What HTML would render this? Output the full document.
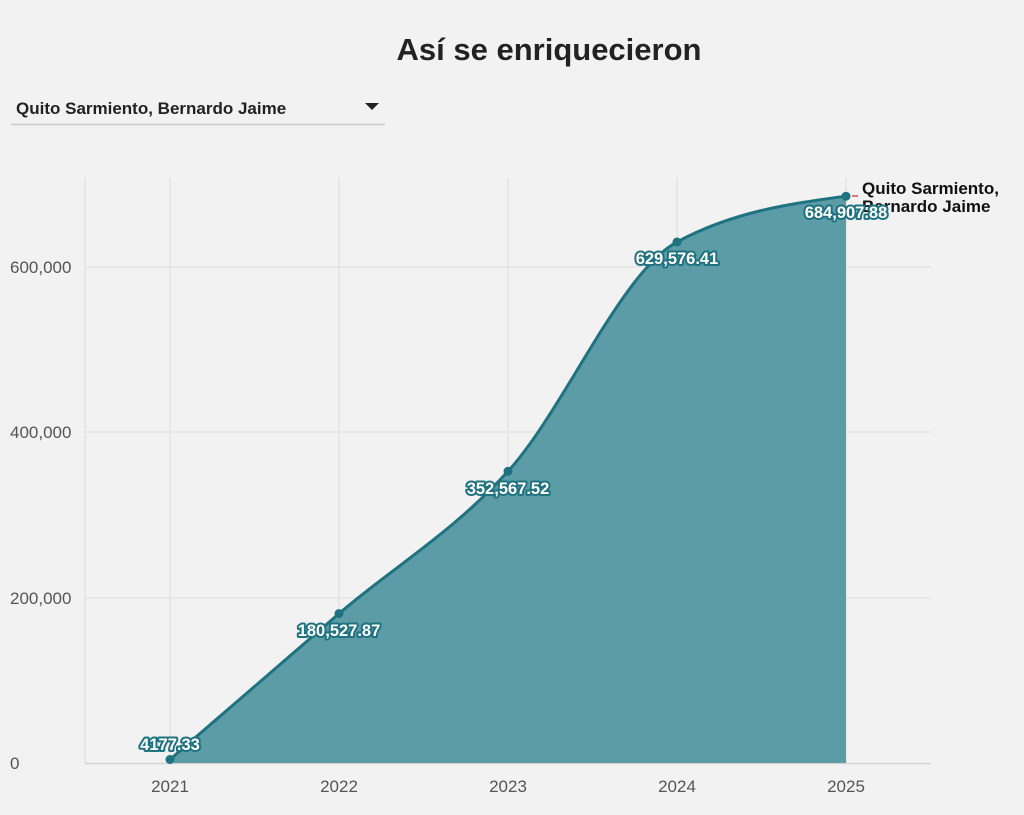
<!DOCTYPE html>
<html><head><meta charset="utf-8"><style>
body{margin:0;background:#f2f2f2;font-family:"Liberation Sans",sans-serif;}
</style></head><body>
<svg width="1024" height="815" xmlns="http://www.w3.org/2000/svg" style="display:block">
<rect width="1024" height="815" fill="#f2f2f2"/>
<text x="549" y="60" text-anchor="middle" font-family="Liberation Sans" font-weight="bold" font-size="31" fill="#222">Así se enriquecieron</text>
<text x="16" y="114" font-family="Liberation Sans" font-weight="bold" font-size="17" fill="#222">Quito Sarmiento, Bernardo Jaime</text>
<path d="M365 103 h14 l-7 7z" fill="#222"/>
<line x1="11" y1="124.5" x2="385" y2="124.5" stroke="#c8c8c8" stroke-width="1.5"/>
<g stroke="#e3e3e3" stroke-width="1.5">
<line x1="85" y1="178" x2="85" y2="763"/><line x1="170" y1="178" x2="170" y2="763"/><line x1="339" y1="178" x2="339" y2="763"/><line x1="508" y1="178" x2="508" y2="763"/><line x1="677" y1="178" x2="677" y2="763"/><line x1="846" y1="178" x2="846" y2="763"/>
<line x1="85" y1="267" x2="931" y2="267"/><line x1="85" y1="432" x2="931" y2="432"/><line x1="85" y1="598" x2="931" y2="598"/>
</g>
<line x1="85" y1="763.5" x2="931" y2="763.5" stroke="#d4d4d4" stroke-width="1.5"/>
<g font-family="Liberation Sans" font-size="17" fill="#555">
<text x="10" y="273">600,000</text><text x="10" y="438">400,000</text><text x="10" y="604">200,000</text><text x="10" y="769">0</text>
<g text-anchor="middle"><text x="170" y="792">2021</text><text x="339" y="792">2022</text><text x="508" y="792">2023</text><text x="677" y="792">2024</text><text x="846" y="792">2025</text></g>
</g>
<path d="M170 759.5 C226.33 710.6 282.67 661.6 339 613.6 C395.33 565.6 451.67 533.2 508 471.3 C564.33 409.4 620.67 272.5 677 242 C733.33 211.5 789.67 203.8 846 196.2 L846 763 L170 763Z" fill="#5b9ca6"/>
<path d="M170 759.5 C226.33 710.6 282.67 661.6 339 613.6 C395.33 565.6 451.67 533.2 508 471.3 C564.33 409.4 620.67 272.5 677 242 C733.33 211.5 789.67 203.8 846 196.2" fill="none" stroke="#1f727f" stroke-width="3"/>
<g fill="#1f727f"><circle cx="170" cy="759.5" r="4.5"/><circle cx="339" cy="613.6" r="4.5"/><circle cx="508" cy="471.3" r="4.5"/><circle cx="677" cy="242" r="4.5"/><circle cx="846" cy="196.2" r="4.5"/></g>
<line x1="852" y1="196" x2="858" y2="196" stroke="#c00" stroke-width="1"/>
<g font-family="Liberation Sans" font-weight="bold" font-size="17" fill="#111">
<text x="862" y="194">Quito Sarmiento,</text><text x="862" y="212">Bernardo Jaime</text></g>
<g font-family="Liberation Sans" font-weight="bold" font-size="16.5" text-anchor="middle" fill="#fff" stroke="#1f727f" stroke-width="4" paint-order="stroke" stroke-linejoin="round">
<text x="170" y="750">4177.33</text><text x="339" y="636">180,527.87</text><text x="508" y="494">352,567.52</text><text x="677" y="264">629,576.41</text><text x="846" y="218">684,907.88</text></g>
</svg>
</body></html>
